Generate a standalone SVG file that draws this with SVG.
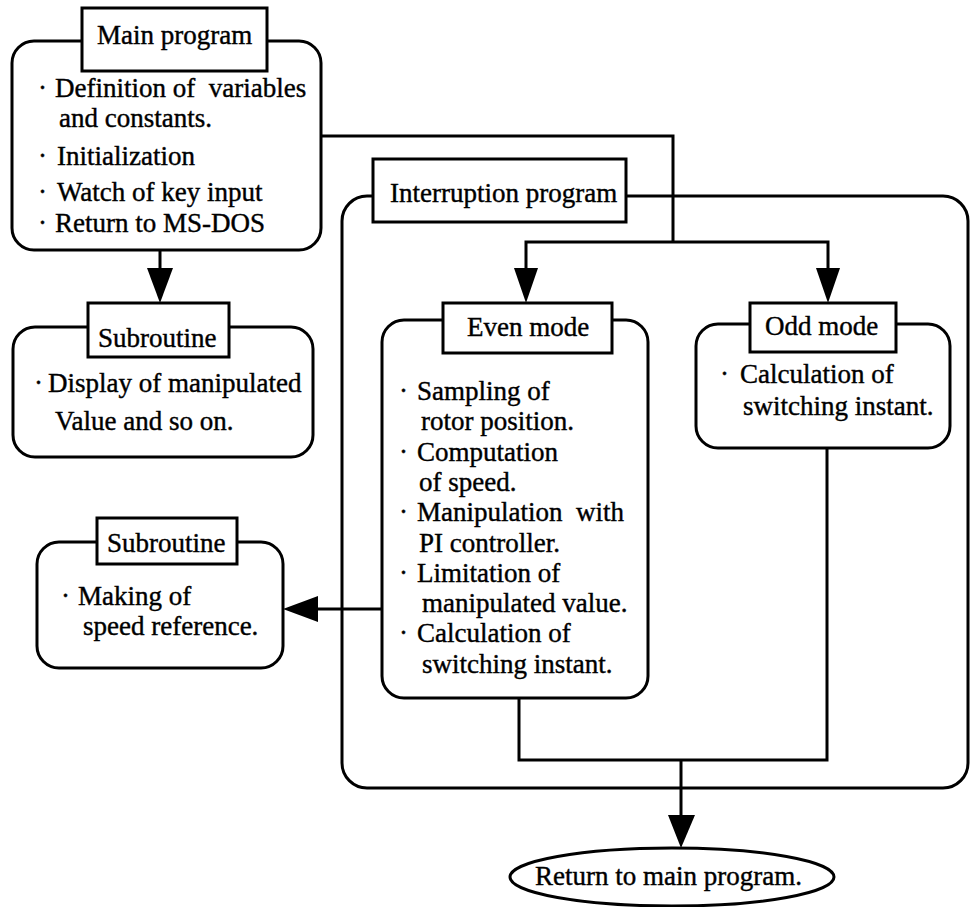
<svg xmlns="http://www.w3.org/2000/svg" width="971" height="907" viewBox="0 0 971 907">
<style>
text{font-family:"Liberation Serif","Times New Roman",serif;font-size:27px;fill:#000;stroke:#000;stroke-width:0.4;white-space:pre}
.box{fill:#fff;stroke:#000;stroke-width:3}
.ttl{fill:#fff;stroke:#000;stroke-width:3}
.ln{fill:none;stroke:#000;stroke-width:3}
.ah{fill:#000;stroke:none}
</style>
<rect width="971" height="907" fill="#fff"/>
<g id="interruption">
<rect class="box" x="342" y="196" width="626" height="592" rx="25"/>
<rect class="ttl" x="373" y="159" width="253" height="63"/>
<text x="390" y="202">Interruption program</text>
</g>
<g id="connectors">
<polyline class="ln" points="321,136 673,136 673,242"/>
<polyline class="ln" points="526,270 526,242 828,242 828,270"/>
<line class="ln" x1="160" y1="250" x2="160" y2="270"/>
<line class="ln" x1="382" y1="609" x2="316" y2="609"/>
<polyline class="ln" points="519,698 519,760 827,760 827,448"/>
<line class="ln" x1="681" y1="760" x2="681" y2="817"/>
<polygon class="ah" points="147,268 173,268 160,303"/>
<polygon class="ah" points="514,268 538,268 526,303"/>
<polygon class="ah" points="816,268 840,268 828,303"/>
<polygon class="ah" points="318,596 318,622 283,609"/>
<polygon class="ah" points="668,815 695,815 681,848"/>
</g>
<g id="main">
<rect class="box" x="12" y="41" width="309" height="209" rx="22"/>
<rect class="ttl" x="82" y="8" width="185" height="63"/>
<text x="97" y="44">Main program</text>
<text x="38" y="97">·<tspan x="55">Definition of  variables</tspan></text>
<text x="59" y="127">and constants.</text>
<text x="38" y="165">·<tspan x="57">Initialization</tspan></text>
<text x="38" y="201">·<tspan x="57">Watch of key input</tspan></text>
<text x="38" y="232">·<tspan x="55">Return to MS-DOS</tspan></text>
</g>
<g id="sub1">
<rect class="box" x="13" y="327" width="300" height="130" rx="22"/>
<rect class="ttl" x="88" y="303" width="141" height="54"/>
<text x="98" y="347">Subroutine</text>
<text x="34" y="392">·<tspan x="48">Display of manipulated</tspan></text>
<text x="55" y="430">Value and so on.</text>
</g>
<g id="sub2">
<rect class="box" x="37" y="542" width="246" height="126" rx="22"/>
<rect class="ttl" x="97" y="518" width="140" height="46"/>
<text x="107" y="552">Subroutine</text>
<text x="61" y="605">·<tspan x="78">Making of</tspan></text>
<text x="83" y="635">speed reference.</text>
</g>
<g id="even">
<rect class="box" x="382" y="320" width="266" height="378" rx="22"/>
<rect class="ttl" x="443" y="303" width="169" height="50"/>
<text x="467" y="336">Even mode</text>
<text x="399" y="400">·<tspan x="417">Sampling of</tspan></text>
<text x="421" y="430">rotor position.</text>
<text x="399" y="461">·<tspan x="417">Computation</tspan></text>
<text x="419" y="491">of speed.</text>
<text x="399" y="521">·<tspan x="417">Manipulation  with</tspan></text>
<text x="419" y="552">PI controller.</text>
<text x="399" y="582">·<tspan x="417">Limitation of</tspan></text>
<text x="422" y="612">manipulated value.</text>
<text x="399" y="642">·<tspan x="417">Calculation of</tspan></text>
<text x="422" y="673">switching instant.</text>
</g>
<g id="odd">
<rect class="box" x="696" y="324" width="254" height="124" rx="22"/>
<rect class="ttl" x="750" y="303" width="146" height="49"/>
<text x="765" y="335">Odd mode</text>
<text x="720" y="383">·<tspan x="740">Calculation of</tspan></text>
<text x="743" y="415">switching instant.</text>
</g>
<g id="return">
<ellipse class="box" cx="672" cy="877" rx="162" ry="29"/>
<text x="535" y="885">Return to main program.</text>
</g>
</svg>
